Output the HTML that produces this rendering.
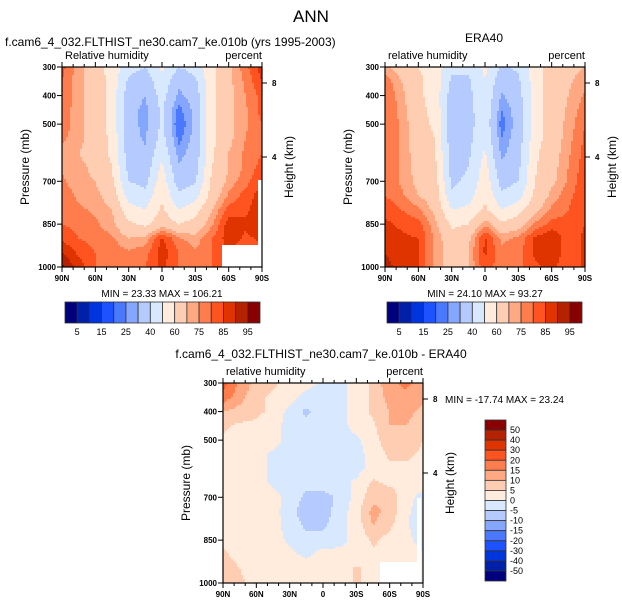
<!DOCTYPE html>
<html><head><meta charset="utf-8"><style>
body{margin:0;background:#fff;}
svg text{font-family:"Liberation Sans",sans-serif;fill:#000;}
</style></head><body>
<svg id="s" width="622" height="605" xmlns="http://www.w3.org/2000/svg">
<text x="311" y="22" font-size="17" text-anchor="middle">ANN</text>
<text x="5" y="46" font-size="12">f.cam6_4_032.FLTHIST_ne30.cam7_ke.010b (yrs 1995-2003)</text>
<text x="484" y="42" font-size="12" text-anchor="middle">ERA40</text>
<text x="321" y="358" font-size="12" text-anchor="middle">f.cam6_4_032.FLTHIST_ne30.cam7_ke.010b - ERA40</text>
</svg>
<script>
const lats=["90N","75N","60N","45N","30N","15N","0","15S","30S","45S","60S","75S","90S"];
const pressures=[300,350,400,450,500,550,600,650,700,750,800,850,900,950,1000];
const pTicks=[300,400,500,700,850,1000];
const latTicks=["90N","60N","30N","0","30S","60S","90S"];
const absLevels=[5,10,15,20,25,30,40,50,60,70,75,80,85,90,95];
const absLabels=["5","15","25","40","60","75","85","95"];
const diffLevels=[-50,-40,-30,-20,-15,-10,-5,0,5,10,15,20,30,40,50];
const diffLabels=["50","40","30","20","15","10","5","0","-5","-10","-15","-20","-30","-40","-50"];
const colors=["#00007f","#0020a8","#0034dc","#1c52ff","#4a78ff","#85a6ff","#b5cbff","#d7e8ff","#ffecdc","#ffcdb2","#ffa882","#ff7c4c","#ff5420","#e03400","#b42200","#880000"];
const modelRH=[
[82,72,65,56,44,40,52,40,44,58,68,78,88],
[80,72,66,56,38,33,48,32,38,58,68,76,85],
[80,72,66,56,34,30,44,28,34,58,68,75,82],
[78,72,66,56,33,28,42,23,32,58,68,74,82],
[78,72,66,56,33,28,42,20,32,58,68,74,80],
[76,72,66,58,33,29,44,23,33,58,68,75,80],
[74,70,66,58,35,31,48,27,34,58,70,76,80],
[74,72,68,60,37,34,52,31,36,60,70,76,82],
[76,72,70,62,40,37,56,35,39,62,72,78,85],
[78,74,72,66,46,43,59,42,46,64,76,82,88],
[78,76,74,70,54,50,62,50,56,70,82,84,88],
[80,78,76,72,62,58,66,60,64,74,88,86,88],
[84,80,78,76,70,72,86,76,72,80,88,84,86],
[90,84,80,78,76,78,88,80,76,80,84,82,84],
[96,88,80,78,78,80,86,80,78,80,82,82,82]];
const eraRH=[
[72,66,60,56,42,42,52,38,42,55,65,68,70],
[78,70,62,56,38,38,50,33,38,55,65,69,73],
[80,72,62,56,35,37,49,29,36,55,65,70,76],
[80,73,63,57,34,36,48,25,34,55,65,71,78],
[80,74,64,58,34,36,47,22,34,55,65,72,80],
[80,74,65,60,34,37,49,25,35,56,65,73,81],
[80,74,66,61,35,38,51,28,36,58,66,74,82],
[80,74,67,62,36,40,54,32,38,59,67,75,83],
[80,74,68,64,38,42,56,36,40,60,68,76,84],
[80,76,70,66,42,46,58,42,46,62,72,78,85],
[84,80,76,68,50,52,62,50,56,68,76,80,85],
[86,84,82,72,58,60,74,62,66,76,82,82,85],
[88,86,85,74,64,68,86,74,76,86,90,82,86],
[90,87,85,74,66,70,86,76,78,86,89,82,86],
[92,88,85,74,66,70,84,76,78,84,86,82,86]];
const diffRH=[
[22,14,8,6,3,2,-1,-2,2,6,14,16,12],
[18,12,6,4,2,-2,-3,-2,2,6,12,14,12],
[10,8,6,4,-2,-6,-3,-2,2,6,10,12,8],
[6,4,4,2,-2,-3,-2,-2,2,4,10,10,6],
[4,3,3,2,-2,-2,-2,-2,-1,3,8,8,5],
[3,3,2,-1,-3,-2,-2,-2,-2,2,6,6,4],
[2,2,2,-1,-4,-2,-2,-2,-2,2,4,4,2],
[2,2,2,-1,-4,-4,-2,-2,1,6,4,3,2],
[2,2,2,2,-2,-6,-7,-4,2,8,8,2,-2],
[3,2,2,2,-3,-8,-7,-3,3,12,8,1,-3],
[3,2,2,2,-2,-6,-6,-2,2,10,6,1,-5],
[4,2,2,2,-1,-3,-3,-1,1,6,3,2,-3],
[6,3,2,2,1,-1,2,1,1,4,3,2,1],
[8,5,2,2,4,2,4,2,6,3,2,1,1],
[10,6,3,2,4,2,4,2,6,3,2,1,1]];

const NS="http://www.w3.org/2000/svg";
const svg=document.getElementById('s');
function mk(tag,attrs,parent){const e=document.createElementNS(NS,tag);for(const k in attrs)e.setAttribute(k,attrs[k]);(parent||svg).appendChild(e);return e;}
function colorFor(v,levels){let i=0;while(i<levels.length&&v>=levels[i])i++;return colors[i];}
function latIndex(l){return lats.indexOf(l);}
function sample(data,fc,fr){
  const c0=Math.min(Math.floor(fc),lats.length-2),r0=Math.min(Math.floor(fr),pressures.length-2);
  const tx=fc-c0,ty=fr-r0;
  const a=data[r0][c0],b=data[r0][c0+1],c=data[r0+1][c0],d=data[r0+1][c0+1];
  return (a*(1-tx)+b*tx)*(1-ty)+(c*(1-tx)+d*tx)*ty;
}

function panel(ox,oy,data,levels,name,leftLabel,missing){
  const W=200,H=200,S=2;
  const g=mk('g',{});
  
  
  const xs=i=>ox+i*W/(lats.length-1);
  const ys=p=>oy+(p-300)/700*H;
  for(let py=0;py<H;py+=S){
    const fr=(py+S/2)/H*(pressures.length-1);
    let runStart=0,runCol=null;
    for(let px=0;px<=W;px+=S){
      let col=null;
      if(px<W){const fc=(px+S/2)/W*(lats.length-1);col=colorFor(sample(data,fc,fr),levels);}
      if(col!==runCol){
        if(runCol!==null){
          const cell=mk('rect',{x:ox+runStart,y:oy+py,width:px-runStart+0.5,height:S+0.5,fill:runCol},g);
          
          
        }
        runStart=px;runCol=col;
      }
    }
  }
  missing.forEach(m=>{const w=mk('rect',{x:ox+m[0],y:oy+m[1],width:m[2],height:m[3],fill:'#fff'},g);
    
    });
  const fr=mk('rect',{x:ox,y:oy,width:W,height:H,fill:'none',stroke:'#000','stroke-width':1.2},g);
  
  
  pTicks.forEach(p=>{mk('line',{x1:ox-5,x2:ox,y1:ys(p),y2:ys(p),stroke:'#000'},g);
    const t=mk('text',{x:ox-6,y:ys(p)+3,'font-size':8,'text-anchor':'end','font-weight':'bold'},g);t.textContent=p;
    
    });
  for(let d=0;d<=180;d+=10){const x=ox+d/180*W;const len=d%30===0?5:3;
    mk('line',{x1:x,x2:x,y1:oy+H,y2:oy+H+len,stroke:'#000'},g);
    mk('line',{x1:x,x2:x,y1:oy,y2:oy-len,stroke:'#000'},g);}
  latTicks.forEach(l=>{const t=mk('text',{x:xs(latIndex(l)),y:oy+H+14,'font-size':8,'text-anchor':'middle','font-weight':'bold'},g);t.textContent=l;
    
    });
  [[8,16],[4,90]].forEach(h=>{mk('line',{x1:ox+W,x2:ox+W+5,y1:oy+h[1],y2:oy+h[1],stroke:'#000'},g);
    const t=mk('text',{x:ox+W+10,y:oy+h[1]+3,'font-size':8,'font-weight':'bold'},g);t.textContent=h[0];
    
    });
  const a=mk('text',{x:ox+3,y:oy-8,'font-size':11},g);a.textContent=leftLabel;
  
  
  const b=mk('text',{x:ox+W,y:oy-8,'font-size':11,'text-anchor':'end'},g);b.textContent='percent';
  
  
  const yl=mk('text',{x:0,y:0,'font-size':12,'text-anchor':'middle',transform:`translate(${ox-33},${oy+100}) rotate(-90)`},g);yl.textContent='Pressure (mb)';
  
  
  const yr=mk('text',{x:0,y:0,'font-size':12,'text-anchor':'middle',transform:`translate(${ox+W+31},${oy+100}) rotate(-90)`},g);yr.textContent='Height (km)';
  
  
}
function hbar(ox,oy,name){
  const g=mk('g',{});
  
  
  const bw=195/colors.length;
  colors.forEach((c,i)=>{const r=mk('rect',{x:ox+i*bw,y:oy,width:bw,height:21,fill:c,stroke:'#333','stroke-width':0.8},g);
    
    });
  absLabels.forEach((l,i)=>{const t=mk('text',{x:ox+(2*i+1)*bw,y:oy+33,'font-size':9,'text-anchor':'middle'},g);t.textContent=l;
    
    });
}
panel(62,67,modelRH,absLevels,'model-panel','Relative humidity',[[160,178,40,22],[196,113,4,87]]);
panel(385,67,eraRH,absLevels,'obs-panel','relative humidity',[]);
panel(223,383,diffRH,diffLevels,'diff-panel','relative humidity',[[157,179,37,21],[194,115,4,85]]);
hbar(65,302,'model-colorbar');
hbar(387,302,'obs-colorbar');
const mm=[[162,297,'MIN =  23.33  MAX = 106.21'],[485,297,'MIN =  24.10  MAX =  93.27']];
mm.forEach(m=>{const t=mk('text',{x:m[0],y:m[1],'font-size':10,'text-anchor':'middle'});t.textContent=m[2];
  
  });
const dm=mk('text',{x:445,y:403,'font-size':10});dm.textContent='MIN = -17.74  MAX =  23.24';


const vg=mk('g',{});


const bh=161/colors.length;
colors.slice().reverse().forEach((c,i)=>{const r=mk('rect',{x:485,y:420+i*bh,width:21,height:bh,fill:c,stroke:'#333','stroke-width':0.8},vg);
  
  });
diffLabels.forEach((l,i)=>{const t=mk('text',{x:510,y:420+(i+1)*bh+3,'font-size':9},vg);t.textContent=l;
  
  });
</script>
</body></html>
